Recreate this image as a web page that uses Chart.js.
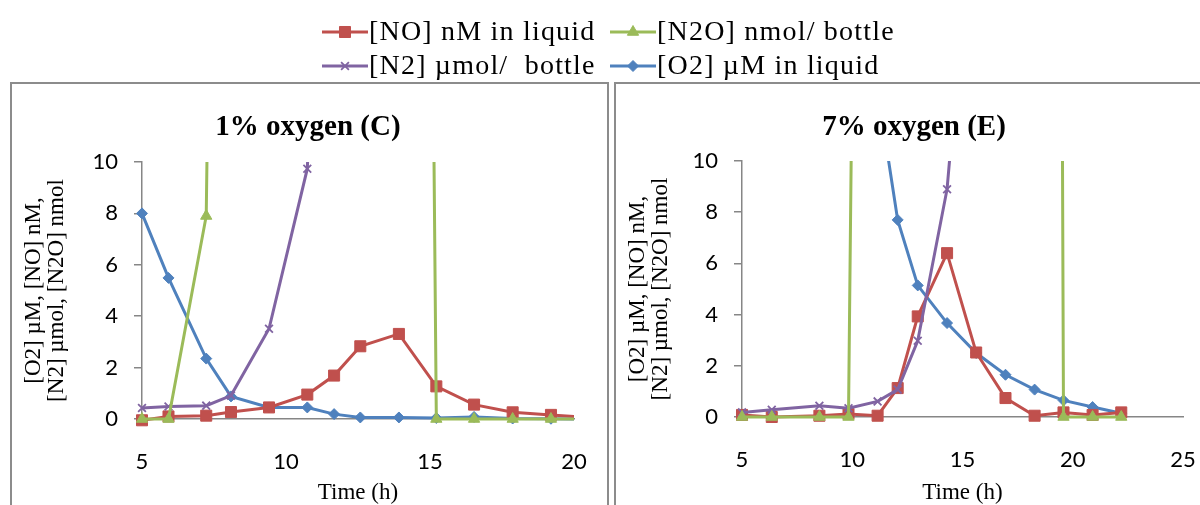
<!DOCTYPE html>
<html>
<head>
<meta charset="utf-8">
<script src="https://cdn.jsdelivr.net/npm/chart.js@4.4.1/dist/chart.umd.min.js"></script>
<style>
  html, body { margin: 0; padding: 0; background: #fff; }
  body { width: 1200px; height: 505px; overflow: hidden; position: relative; }
  .panel { position: absolute; top: 82px; height: 440px; border: 2px solid #8c8c8c; box-sizing: border-box; }
  #panelC { left: 10px; width: 599px; }
  #panelE { left: 614px; width: 600px; }
  canvas { position: absolute; }
  canvas.chart { top: 84px; }
  #chartC { left: 12px; }
  #chartE { left: 616px; }
  #legend { left: 0; top: 0; }
</style>
</head>
<body>
<div class="panel" id="panelC"></div>
<div class="panel" id="panelE"></div>
<canvas id="legend" width="1200" height="82"></canvas>
<canvas class="chart" id="chartC" width="594" height="421"></canvas>
<canvas class="chart" id="chartE" width="584" height="421"></canvas>

<script>
// time points (h) and measured values, 1% oxygen (C)
const timeC = [5, 5.92, 7.23, 8.09, 9.41, 10.74, 11.67, 12.58, 13.92, 15.22, 16.53, 17.87, 19.2, 20.5];
const noC   = [-0.05, 0.1, 0.13, 0.27, 0.45, 0.95, 1.69, 2.83, 3.31, 1.27, 0.56, 0.26, 0.16, 0.06];
const n2oC  = [0, 0, 7.9, 80, 150, 180, 190, 180, 162, 0, 0, 0, 0, 0];
const n2C   = [0.43, 0.49, 0.52, 0.91, 3.51, 9.74, 35, 60, 80, 95, 105, 110, 115, 118];
const o2C   = [8.0, 5.49, 2.35, 0.88, 0.45, 0.45, 0.19, 0.06, 0.06, 0.04, 0.08, 0.02, 0.01, 0.0];

// 7% oxygen (E)
const timeE = [5.0, 6.35, 8.51, 9.83, 11.15, 12.06, 12.97, 14.3, 15.62, 16.95, 18.27, 19.58, 20.9, 22.2];
const noE   = [0.08, 0.0, 0.05, 0.12, 0.05, 1.13, 3.93, 6.4, 2.52, 0.74, 0.05, 0.18, 0.08, 0.18];
const n2oE  = [0, 0, 0, 0, 110, 200, 250, 280, 300, 300, 290, 0, 0, 0];
const n2E   = [0.18, 0.28, 0.44, 0.34, 0.61, 1.07, 2.98, 8.9, 22, 40, 50, 55, 60, 62];
const o2E   = [85, 70, 45, 25, 12.8, 7.7, 5.14, 3.67, 2.5, 1.65, 1.07, 0.65, 0.39, 0.15];

const yTicks = [0, 2, 4, 6, 8, 10];
const seriesNames = ['[NO] nM in liquid', '[N2O] nmol/ bottle', '[N2] \u00b5mol/  bottle', '[O2] \u00b5M in liquid'];
const yTitle = ['[O2] \u00b5M, [NO] nM,', '[N2] \u00b5mol, [N2O] nmol'];

const styles = [
  { color: '#C0504D', pointStyle: 'rect', radius: 7.8, borderWidth: 1 },
  { color: '#9BBB59', pointStyle: 'triangle', radius: 6.5, borderWidth: 1 },
  { color: '#8064A2', pointStyle: 'crossRot', radius: 5.5, borderWidth: 1.8 },
  { color: '#4F81BD', pointStyle: 'rectRot', radius: 5.5, borderWidth: 1 }
];

const axisGray = '#868686';
const serif = "'Liberation Serif', 'Times New Roman', serif";

function toPoints(xs, ys) {
  return xs.map((x, i) => ({ x: x, y: ys[i] }));
}

function makeDataset(i, xs, ys) {
  const s = styles[i];
  return {
    label: seriesNames[i],
    data: toPoints(xs, ys),
    showLine: true,
    borderColor: s.color,
    backgroundColor: s.color,
    borderWidth: 3,
    pointStyle: s.pointStyle,
    pointRadius: s.radius,
    pointBorderWidth: s.borderWidth,
    pointBackgroundColor: s.color,
    pointBorderColor: s.color,
    tension: 0,
    clip: { left: 6, top: 0, right: 0, bottom: 8 }
  };
}

// panel heading drawn at a fixed centre, the chart area is not centred in the panel
const panelTitle = {
  id: 'panelTitle',
  afterDraw(chart, args, opts) {
    const ctx = chart.ctx;
    ctx.save();
    ctx.font = 'bold 29px ' + serif;
    ctx.fillStyle = '#000';
    ctx.textAlign = 'center';
    ctx.textBaseline = 'middle';
    ctx.fillText(opts.text, opts.x, opts.y);
    ctx.restore();
  }
};

function makeChart(id, title, titleX, xs, no, n2o, n2, o2, xMax, yWidth, xHeight, padTop, padRight) {
  const ctx = document.getElementById(id).getContext('2d');
  return new Chart(ctx, {
    type: 'scatter',
    data: {
      // first dataset is drawn on top
      datasets: [
        makeDataset(1, xs, n2o),
        makeDataset(2, xs, n2),
        makeDataset(0, xs, no),
        makeDataset(3, xs, o2)
      ]
    },
    plugins: [panelTitle],
    options: {
      responsive: false,
      animation: false,
      devicePixelRatio: 1,
      layout: { padding: { top: padTop, left: 0, bottom: 0, right: padRight } },
      plugins: {
        legend: { display: false },
        tooltip: { enabled: false },
        panelTitle: { text: title, x: titleX, y: 44 }
      },
      scales: {
        x: {
          type: 'linear',
          min: 5,
          max: xMax,
          afterFit: s => { s.height = xHeight; },
          // invisible tick marks push the labels down without widening the side padding
          grid: { display: true, drawOnChartArea: false, drawTicks: true, tickLength: 26, color: 'rgba(0,0,0,0)' },
          border: { display: true, color: axisGray, width: 1.5 },
          ticks: {
            stepSize: 5,
            padding: 4,
            color: '#000',
            font: { family: 'Lato', size: 22 }
          },
          title: {
            display: true,
            text: 'Time (h)',
            color: '#000',
            font: { family: serif, size: 23, lineHeight: 1 },
            padding: { top: 0, bottom: 1 }
          }
        },
        y: {
          type: 'linear',
          min: 0,
          max: 10,
          afterFit: s => { s.width = yWidth; },
          afterBuildTicks: s => { s.ticks = yTicks.map(v => ({ value: v })); },
          grid: { drawOnChartArea: false, drawTicks: true, tickLength: 8, color: axisGray, lineWidth: 1.5 },
          border: { display: true, color: axisGray, width: 1.5 },
          ticks: {
            padding: 16,
            color: '#000',
            font: { family: 'Lato', size: 22 }
          },
          title: {
            display: true,
            text: yTitle,
            color: '#000',
            font: { family: serif, size: 23, lineHeight: 1.02 },
            padding: { top: 10, bottom: 0 }
          }
        }
      }
    }
  });
}

makeChart('chartC', '1% oxygen (C)', 296, timeC, noC, n2oC, n2C, o2C, 20, 130, 86, 78, 32);
makeChart('chartE', '7% oxygen (E)', 298, timeE, noE, n2oE, n2E, o2E, 25, 126, 88, 77, 17);

// shared legend, two rows of two entries
const legendPos = [
  { x: 322, y: 32 }, { x: 610, y: 32 },
  { x: 322, y: 66 }, { x: 610, y: 66 }
];
const g = document.getElementById('legend').getContext('2d');
seriesNames.forEach((name, i) => {
  const s = styles[i];
  const p = legendPos[i];
  g.save();
  g.strokeStyle = s.color;
  g.fillStyle = s.color;
  g.lineWidth = 3;
  g.beginPath();
  g.moveTo(p.x, p.y);
  g.lineTo(p.x + 46, p.y);
  g.stroke();
  g.lineWidth = s.borderWidth;
  Chart.helpers.drawPoint(g, { pointStyle: s.pointStyle, radius: s.radius, borderWidth: s.borderWidth, rotation: 0 }, p.x + 23, p.y);
  g.restore();

  g.save();
  g.font = '28px ' + serif;
  if ('letterSpacing' in g) g.letterSpacing = '1.2px';
  g.fillStyle = '#000';
  g.textAlign = 'left';
  g.textBaseline = 'middle';
  g.fillText(name, p.x + 47, p.y + 1);
  g.restore();
});
</script>
</body>
</html>
